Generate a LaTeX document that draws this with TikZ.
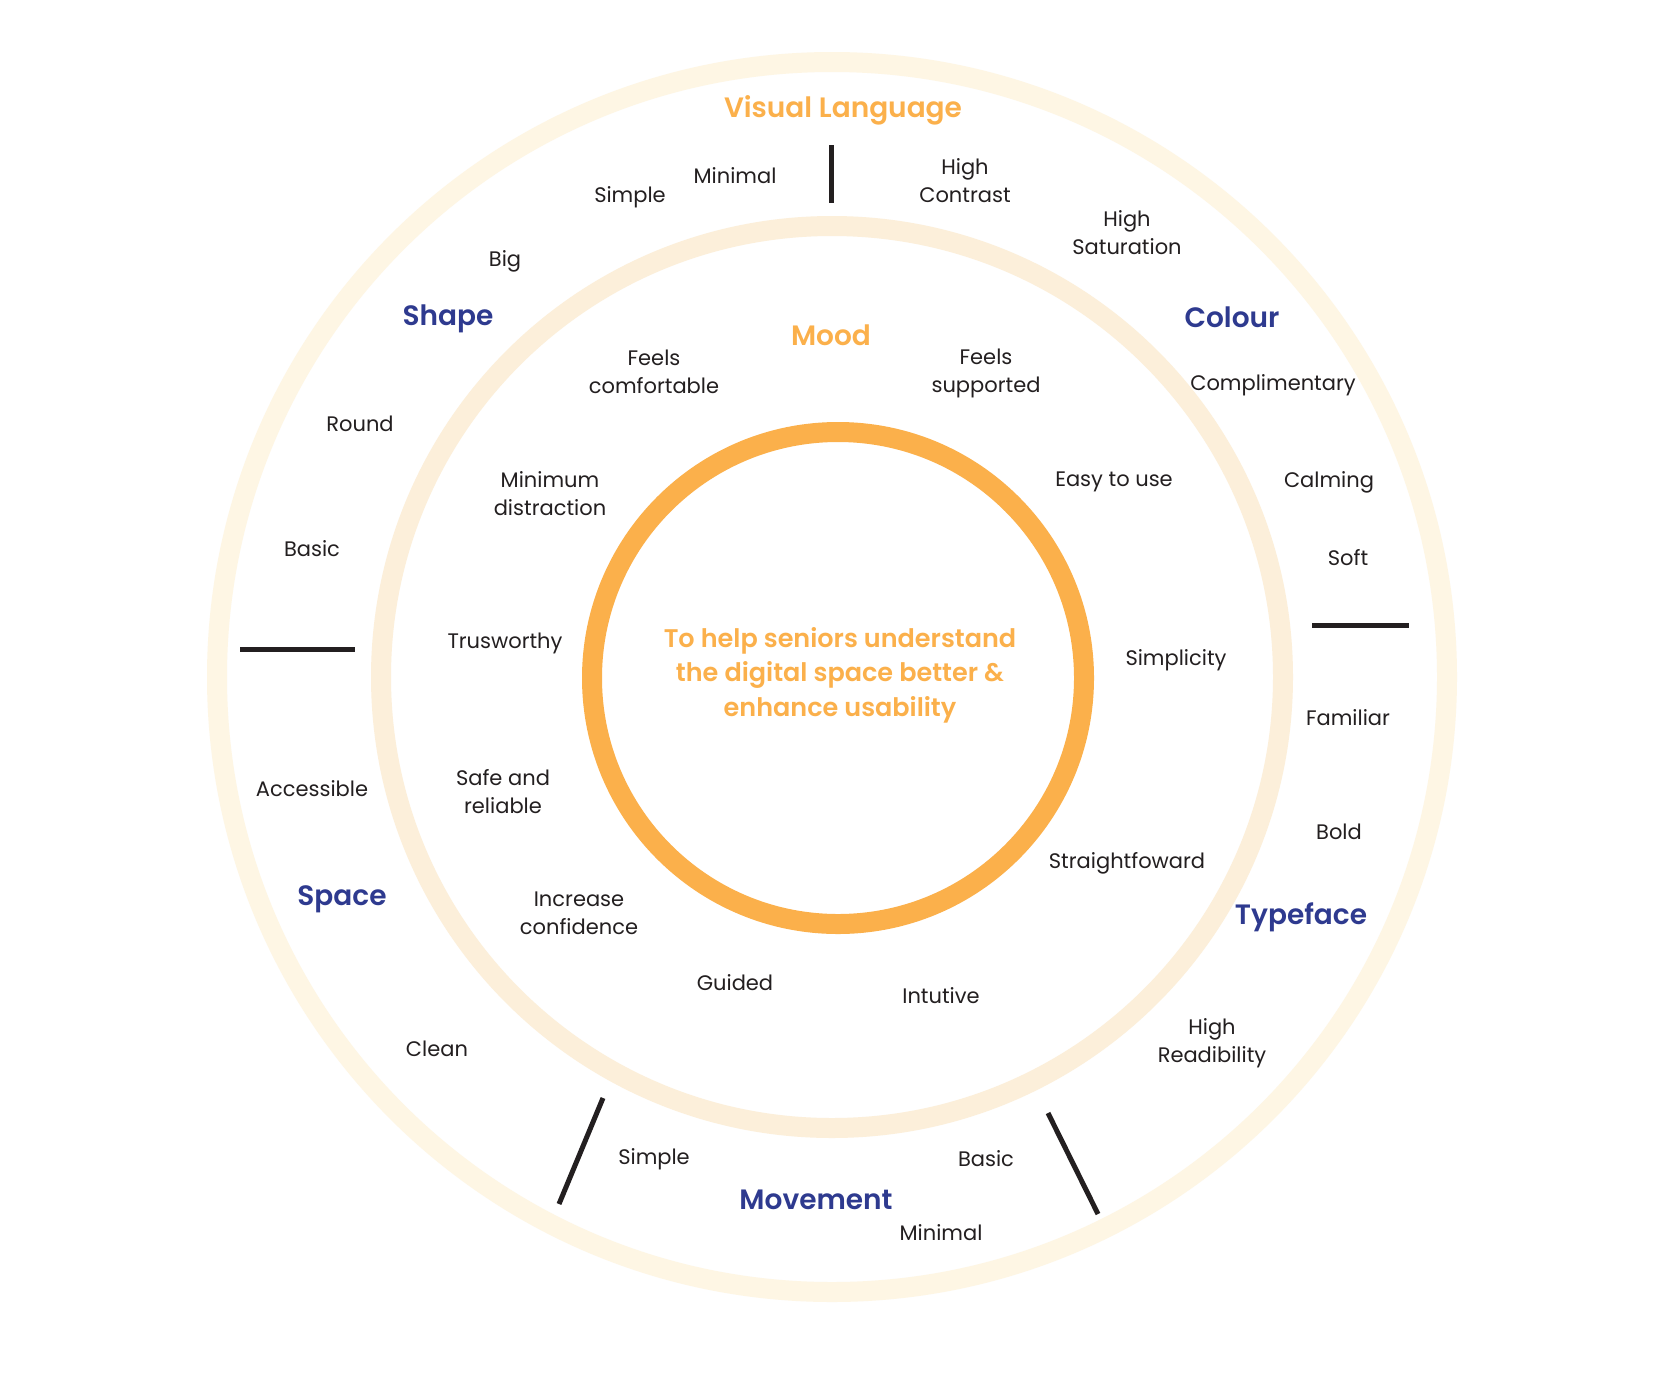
\documentclass[tikz,border=0pt]{standalone}
\usepackage{fontspec}
\setmainfont{Poppins}[BoldFont={Poppins SemiBold}]
\definecolor{ringout}{HTML}{FEF6E4}
\definecolor{ringmid}{HTML}{FCEFDA}
\definecolor{aimorange}{HTML}{FBB04B}
\definecolor{themeblue}{HTML}{2E3A8F}
\definecolor{inkblack}{HTML}{231F20}
\begin{document}
\begin{tikzpicture}[x=1pt, y=-1pt,
    word/.style={align=center, text=inkblack, inner sep=0pt, font=\fontsize{21}{28}\selectfont},
    theme/.style={text=themeblue, inner sep=0pt, font=\fontsize{28}{32}\selectfont\bfseries},
    heading/.style={text=aimorange, inner sep=0pt, font=\fontsize{28}{32}\selectfont\bfseries},
    aim/.style={align=center, text=aimorange, inner sep=0pt, font=\fontsize{25.5}{34.5}\selectfont\bfseries},
    divider/.style={draw=inkblack, line width=5pt}]
    \fill[white] (0,0) rectangle (1664,1382);
    \useasboundingbox (0,0) rectangle (1664,1382);

    % rings
    \draw[ringout, line width=20pt] (832,677) circle[radius=615pt];
    \draw[ringmid, line width=20pt] (832,677) circle[radius=451pt];
    \draw[aimorange, line width=20pt] (838,678) circle[radius=246pt];

    % dividers
    \coordinate (d1a) at (831,145); \coordinate (d1b) at (831,203);
    \coordinate (d2a) at (240,649); \coordinate (d2b) at (355,649);
    \coordinate (d3a) at (1312,625); \coordinate (d3b) at (1409,625);
    \coordinate (d4a) at (603,1098); \coordinate (d4b) at (559,1204);
    \coordinate (d5a) at (1048,1113); \coordinate (d5b) at (1098,1214);
    \draw[divider] (d1a) -- (d1b);
    \draw[divider] (d2a) -- (d2b);
    \draw[divider] (d3a) -- (d3b);
    \draw[divider] (d4a) -- (d4b);
    \draw[divider] (d5a) -- (d5b);

    % centre
    \node (aim) [aim] at (840,675) {To help seniors understand\\the digital space better \&\\enhance usability};

    % headings
    \node (vislang) [heading] at (843,110) {Visual Language};
    \node (mood) [heading] at (831,335) {Mood};
    \node (shape) [theme] at (448,319) {Shape};
    \node (colour) [theme] at (1232,317) {Colour};
    \node (space) [theme] at (342,899) {Space};
    \node (typeface) [theme] at (1301,917) {Typeface};
    \node (movement) [theme] at (816,1200) {Movement};

    % mood words
    \node (comfort) [word] at (654,372) {Feels\\comfortable};
    \node (support) [word] at (986,373) {Feels\\supported};
    \node (mindist) [word] at (550,494) {Minimum\\distraction};
    \node (easy) [word] at (1114,482) {Easy to use};
    \node (trust) [word] at (505,643) {Trusworthy};
    \node (simplicity) [word] at (1176,660) {Simplicity};
    \node (safe) [word] at (503,792) {Safe and\\reliable};
    \node (straight) [word] at (1127,863) {Straightfoward};
    \node (confid) [word] at (579,913) {Increase\\confidence};
    \node (guided) [word] at (735,983) {Guided};
    \node (intuit) [word] at (941,996) {Intutive};

    % visual language words
    \node (vlminimal) [word] at (735,176) {Minimal};
    \node (vlsimple) [word] at (630,197) {Simple};
    \node (contrast) [word] at (965,181) {High\\Contrast};
    \node (saturation) [word] at (1127,233) {High\\Saturation};
    \node (big) [word] at (505,261) {Big};
    \node (complim) [word] at (1273,385) {Complimentary};
    \node (round) [word] at (360,424) {Round};
    \node (calming) [word] at (1329,482) {Calming};
    \node (shbasic) [word] at (312,549) {Basic};
    \node (soft) [word] at (1348,558) {Soft};
    \node (familiar) [word] at (1348,718) {Familiar};
    \node (access) [word] at (312,789) {Accessible};
    \node (bold) [word] at (1339,832) {Bold};
    \node (readab) [word] at (1212,1043) {High\\Readibility};
    \node (clean) [word] at (437,1049) {Clean};
    \node (mvsimple) [word] at (654,1159) {Simple};
    \node (mvbasic) [word] at (986,1159) {Basic};
    \node (mvminimal) [word] at (941,1233) {Minimal};
\end{tikzpicture}
\end{document}
